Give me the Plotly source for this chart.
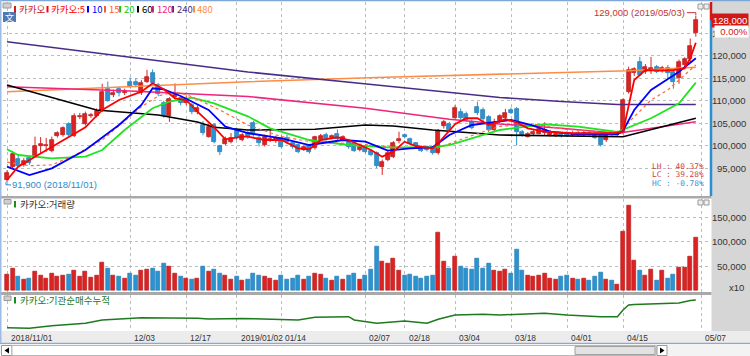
import plotly.graph_objects as go
from plotly.subplots import make_subplots

# ---------------- data ----------------
opens = [92400, 95300, 97000, 95700, 97200, 97700, 99900, 99800, 98800, 102200,
         102400, 104800, 102200, 106400, 104800, 106600, 106600, 107800, 112600, 111300,
         112600, 111700, 114300, 114200, 111700, 114300, 116200, 113500, 109400, 106600,
         110800, 110600, 109500, 109000, 107500, 104600, 102000, 104600, 99900, 100400,
         100700, 103500, 101300, 102800, 105000, 101700, 100100, 101200, 101000, 101700,
         101600, 100600, 100100, 99000, 100100, 99400, 101300, 102300, 101700, 102700,
         101300, 101100, 100600, 99000, 99900, 98900, 98300, 95300, 96800, 97500,
         101000, 102400, 101400, 100500, 99600, 99700, 99600, 98300, 104300, 104800,
         106200, 107600, 107100, 105300, 108700, 108000, 106400, 103500, 105500, 106200,
         108000, 108200, 103100, 102000, 102500, 102700, 102800, 102400, 102200, 102600,
         102800, 102300, 102900, 102400, 102900, 102700, 102400, 101200, 102700, 102400,
         102750, 112000, 116300, 118700, 116500, 116600, 117600, 116700, 117250, 116500,
         115000, 118000, 119300, 125100]
highs = [94500, 98800, 97800, 97200, 97600, 102000, 101900, 101700, 102000, 103200,
         104300, 105200, 107200, 107300, 107600, 107300, 108300, 113800, 114300, 112500,
         113200, 112700, 115200, 115000, 114600, 116900, 117000, 114000, 110000, 110800,
         113900, 111000, 111200, 109500, 109000, 105500, 104800, 105000, 100200, 102000,
         102800, 104000, 102800, 103300, 105500, 102400, 102400, 103500, 102200, 102300,
         102500, 101000, 100400, 100000, 100300, 102200, 102600, 102900, 102500, 103600,
         102300, 101500, 101000, 100000, 100200, 99300, 98700, 96900, 98800, 101000,
         103100, 102700, 101800, 100800, 100000, 100000, 99900, 103700, 105700, 105300,
         109000, 108300, 107600, 105800, 109800, 108500, 106800, 106000, 107000, 108200,
         108500, 108600, 103500, 103000, 103600, 104300, 105200, 103500, 102900, 103000,
         103200, 103200, 103300, 103400, 103300, 103000, 102700, 103000, 103200, 103300,
         110500, 117600, 117500, 119800, 118200, 119800, 118000, 117800, 118000, 116900,
         119200, 119700, 123900, 129000]
lows = [91900, 95000, 95200, 95300, 95700, 97500, 98300, 98600, 98500, 101800,
        102000, 102000, 101900, 105900, 104500, 106200, 106300, 107500, 109800, 110800,
        111000, 111300, 112900, 113000, 111300, 114000, 113600, 111000, 106200, 105300,
        110300, 109000, 109000, 107000, 107000, 102300, 101800, 100500, 97900, 100100,
        100500, 101300, 101000, 101500, 102000, 99800, 99800, 100800, 100600, 99500,
        100300, 99300, 98300, 98800, 98200, 99100, 100900, 101100, 101400, 101100,
        101000, 99300, 98600, 98700, 98300, 97600, 95000, 93450, 96500, 97200,
        100500, 101600, 100000, 99500, 98600, 98700, 98000, 98000, 103800, 103000,
        106000, 105800, 105300, 103600, 106800, 105500, 103000, 103000, 105000, 105900,
        107000, 100000, 102000, 101800, 102200, 102500, 102300, 102000, 101900, 101800,
        101900, 102000, 102100, 102000, 102200, 101500, 99800, 100800, 102000, 102200,
        102500, 111600, 115500, 115500, 116000, 116000, 116200, 116300, 115000, 112700,
        113800, 117500, 118700, 124300]
closes = [93900, 98100, 95500, 96600, 96100, 99900, 100400, 100200, 101300, 102800,
          103900, 102400, 106600, 106700, 107000, 106900, 107800, 112000, 110000, 111800,
          111700, 112200, 113200, 113500, 114000, 115400, 114000, 111500, 106600, 110300,
          111300, 109500, 110400, 107500, 108400, 102800, 104200, 100900, 98600, 101500,
          101800, 101700, 102300, 101900, 102400, 100600, 102000, 101400, 101800, 99700,
          100800, 99700, 98600, 99700, 98600, 101850, 102100, 101400, 102100, 101400,
          101900, 99600, 98900, 99600, 98600, 97900, 95450, 96400, 98300, 100500,
          101500, 101900, 100400, 99800, 98900, 99000, 98300, 103300, 105200, 103500,
          108400, 106200, 105700, 103900, 107200, 106000, 103500, 105000, 106500, 107300,
          107300, 103100, 102400, 102500, 103100, 103800, 103500, 103100, 102500, 102100,
          102200, 102700, 102400, 102800, 102500, 101800, 100200, 102500, 102300, 102800,
          110200, 116900, 117000, 115800, 117600, 117300, 116500, 117300, 116100, 114300,
          118700, 119300, 122200, 128000]
volumes = [32000, 45000, 28000, 22000, 25000, 38000, 30000, 24000, 35000, 28000, 30000,
           33000, 40000, 28000, 38000, 26000, 30000, 58000, 45000, 30000, 28000, 24000,
           35000, 30000, 40000, 42000, 45000, 38000, 55000, 48000, 35000, 28000, 25000, 22000, 24000,
           50000, 38000, 42000, 35000, 30000, 22000, 28000, 20000, 22000, 35000, 30000,
           28000, 25000, 20000, 30000, 22000, 25000, 30000, 22000, 28000, 35000, 32000, 25000,
           20000, 28000, 22000, 30000, 35000, 22000, 30000,
           42000, 90000, 60000, 55000, 65000, 40000, 30000, 32000, 28000, 25000, 28000, 30000,
           120000, 60000, 45000,
           70000, 50000, 45000, 42000, 65000, 45000, 55000, 40000, 38000, 42000, 35000, 85000,
           40000, 30000, 28000, 30000, 35000, 25000, 22000, 28000, 30000, 25000, 22000, 25000,
           20000, 28000, 36000, 23000, 21000, 11000,
           121000, 174000, 62000, 40000, 29600, 42000, 21000, 40000, 25000, 31600, 47000,
           46500, 70000, 108000]

# moving-average lines: vertices (trading-day index, price)
ma5_idx = [0, 2, 5, 8, 11, 14, 17, 20, 24, 26, 28, 30, 32, 34, 37, 39, 42, 43, 46, 49,
           52, 54, 56, 59, 61, 65, 67, 69, 71, 73, 76, 77, 80, 82, 84, 86, 89, 91, 93, 96,
           101, 108, 110, 111, 112, 114, 117, 119, 121, 122, 123]
ma5_val = [92330, 95290, 97530, 99760, 102000, 104080, 107950, 110180, 112040, 113900,
           112570, 110560, 110180, 107570, 104080, 101400, 102000, 102000, 101250, 101250,
           99400, 99180, 101250, 101860, 101250, 99020, 97530, 98640, 100870, 99910,
           99400, 100510, 104760, 106100, 106100, 104600, 105870, 105200, 103860, 103100,
           102750, 102750, 103100, 108800, 114640, 116870, 116720, 116870, 117250, 119490, 122970]
ma10_idx = [0, 4, 8, 14, 20, 24, 26, 28, 31, 36, 39, 43, 49, 54, 60, 64, 68, 72, 76, 79,
            83, 88, 90, 94, 97, 102, 109, 110, 112, 115, 120, 123]
ma10_val = [95290, 93440, 94930, 99020, 104600, 109060, 112790, 112570, 111070, 107950,
            104220, 102810, 101630, 100130, 101250, 100870, 98860, 99400, 99620, 102370,
            104600, 105340, 105710, 104440, 103100, 102520, 102520, 103300, 107950, 112410,
            116500, 119490]
ma15_idx = [0, 4, 8, 12, 17, 24, 27, 30, 33, 38, 43, 49, 55, 61, 66, 72, 77, 82, 88, 94,
            100, 109, 115, 118, 123]
ma15_val = [96300, 95500, 95700, 97800, 101250, 108680, 111070, 112030, 110920, 107950,
            104600, 102000, 100700, 100500, 100000, 99400, 99500, 101800, 104300, 104800,
            103600, 102700, 110180, 112410, 118000]
ma20_idx = [0, 2, 8, 14, 17, 21, 26, 29, 33, 37, 43, 47, 54, 61, 68, 76, 79, 88, 96, 102,
            109, 115, 120, 123]
ma20_val = [99170, 97900, 97170, 97530, 99020, 103480, 108330, 109800, 110690, 109440,
            106540, 103860, 101250, 100130, 99620, 99620, 100130, 103480, 104760, 104240,
            103040, 106100, 109440, 114040]
ma60_idx = [0, 8, 16, 27, 34, 37, 43, 55, 64, 69, 76, 88, 110, 123]
ma60_val = [113530, 110740, 107950, 106830, 105270, 104080, 103480, 103640, 104600, 104380,
            103480, 102370, 101990, 106100]
ma120_idx = [0, 22, 43, 64, 79, 88, 99, 109, 123]
ma120_val = [113150, 112190, 110960, 108330, 105870, 104820, 103860, 102750, 105340]
ma240_idx = [0, 22, 43, 66, 88, 99, 109, 123]
ma240_val = [123190, 119780, 116430, 113530, 110740, 109840, 109170, 109170]
ma480_idx = [0, 22, 43, 66, 88, 111, 123]
ma480_val = [112030, 113200, 114260, 115200, 115980, 116720, 117500]

# institutional cumulative net buying (shares), vertices
inst_idx = [0, 4, 8, 14, 17, 21, 24, 34, 36, 42, 52, 55, 61, 62, 66, 71, 75, 77, 80, 85,
            88, 96, 100, 106, 109, 110, 111, 112, 115, 120, 122, 123]
inst_val = [0, -12000, 40000, 88000, 154000, 174000, 200000, 188000, 174000, 184000,
            154000, 208000, 220000, 154000, 88000, 134000, 88000, 168000, 254000, 268000,
            254000, 288000, 254000, 220000, 220000, 354000, 454000, 464000, 474000, 494000,
            544000, 554000]

tick_idx = [0, 22, 32, 41, 49, 64, 71, 80, 90, 100, 110, 124]
tick_text = ["2018/11/01", "12/03", "12/17", "2019/01/02", "01/14", "02/07", "02/18",
             "03/04", "03/18", "04/01", "04/15", "05/07"]
price_ticks = [95000, 100000, 105000, 110000, 115000, 120000, 125000]
vol_ticks = [50000, 100000, 150000]
low_date = "2018/11/01"
high_date = "2019/05/03"
stock = "카카오"

# ---------------- styling ----------------
UP_FILL, UP_EDGE = "#DC2323", "#B01414"
DN_FILL, DN_EDGE = "#2C93D2", "#1B73AE"
KFONT = "Noto Sans CJK KR"
NFONT = "Liberation Sans, Arial, sans-serif"
GRID = "#BDBDBD"

W, H = 750, 356
L, R, T, B = 3, 39, 2, 25
PW, PH = W - L - R, H - T - B


def PX(x):
    return (x - L) / PW


def PY(y):
    return (H - B - y) / PH


price_range = [88750, 132050]
vol_range = [-3720, 189460]
inst_range = [-66000, 654000]
x_range = [-0.714, 125.71]

n = len(closes)
idx = list(range(n))
up = [i for i in idx if closes[i] >= opens[i]]
dn = [i for i in idx if closes[i] < opens[i]]

fig = make_subplots(rows=3, cols=1, shared_xaxes=True, vertical_spacing=0.01)


def wick_trace(ids, color):
    xs, ys = [], []
    for i in ids:
        xs += [i, i, None]
        ys += [lows[i], highs[i], None]
    return go.Scatter(x=xs, y=ys, mode="lines", line=dict(color=color, width=1),
                      hoverinfo="skip", showlegend=False)


def body_trace(ids, fill, edge):
    base = [min(opens[i], closes[i]) for i in ids]
    hgt = [max(abs(closes[i] - opens[i]), 220) for i in ids]
    return go.Bar(x=ids, y=hgt, base=base, width=0.72,
                  marker=dict(color=fill, line=dict(color=edge, width=0.7)),
                  hoverinfo="skip", showlegend=False)


fig.add_trace(wick_trace(up, UP_FILL), 1, 1)
fig.add_trace(wick_trace(dn, DN_FILL), 1, 1)
fig.add_trace(body_trace(up, UP_FILL, UP_EDGE), 1, 1)
fig.add_trace(body_trace(dn, DN_FILL, DN_EDGE), 1, 1)

ma_specs = [
    (ma480_idx, ma480_val, "#FF8C45", 1.6, "solid"),
    (ma240_idx, ma240_val, "#4A2C86", 1.6, "solid"),
    (ma120_idx, ma120_val, "#F0237D", 1.6, "solid"),
    (ma60_idx, ma60_val, "#000000", 1.6, "solid"),
    (ma20_idx, ma20_val, "#22E322", 1.8, "solid"),
    (ma15_idx, ma15_val, "#FF6A3A", 1.2, "dot"),
    (ma10_idx, ma10_val, "#0000FF", 1.8, "solid"),
    (ma5_idx, ma5_val, "#FF0000", 1.8, "solid"),
]
for xi, yv, col, w, dash in ma_specs:
    fig.add_trace(go.Scatter(x=xi, y=yv, mode="lines",
                             line=dict(color=col, width=w, dash=dash),
                             hoverinfo="skip", showlegend=False), 1, 1)

fig.add_trace(go.Bar(x=up, y=[volumes[i] for i in up], width=0.72,
                     marker=dict(color=UP_FILL, line=dict(color=UP_EDGE, width=0.6)),
                     hoverinfo="skip", showlegend=False), 2, 1)
fig.add_trace(go.Bar(x=dn, y=[volumes[i] for i in dn], width=0.72,
                     marker=dict(color=DN_FILL, line=dict(color=DN_EDGE, width=0.6)),
                     hoverinfo="skip", showlegend=False), 2, 1)

fig.add_trace(go.Scatter(x=inst_idx, y=inst_val, mode="lines",
                         line=dict(color="#1D7A1D", width=1.5),
                         hoverinfo="skip", showlegend=False), 3, 1)

# ---------------- axes ----------------
for k in (1, 2, 3):
    fig.update_xaxes(row=k, col=1, range=x_range, showticklabels=False, ticks="",
                     tickvals=tick_idx, showgrid=True, gridcolor=GRID, griddash="dot",
                     gridwidth=1, zeroline=False, showline=False)
fig.update_yaxes(row=1, col=1, range=price_range, tickvals=price_ticks, showticklabels=False,
                 showgrid=True, gridcolor=GRID, griddash="dot", zeroline=False)
fig.update_yaxes(row=2, col=1, range=vol_range, tickvals=vol_ticks, showticklabels=False,
                 showgrid=True, gridcolor=GRID, griddash="dot", zeroline=False)
fig.update_yaxes(row=3, col=1, range=inst_range, showticklabels=False,
                 showgrid=False, zeroline=False)
fig.update_layout(
    yaxis=dict(domain=[PY(196), 1]),
    yaxis2=dict(domain=[PY(292), PY(198.5)]),
    yaxis3=dict(domain=[0, PY(295)]),
)

shapes = []
ann = []


def rect(x0, y0, x1, y1, fill, line=None, layer="above", lw=1):
    shapes.append(dict(type="rect", xref="paper", yref="paper", x0=PX(x0), x1=PX(x1),
                       y0=PY(y1), y1=PY(y0), fillcolor=fill, layer=layer,
                       line=dict(color=line or fill, width=lw if line else 0)))


# right axis column, label row, scrollbar row, separators
rect(711.5, 0, 750, 331.5, "#D6D6D6", layer="below")
rect(0, 196, 711.5, 198.5, "#A9A9A9")
rect(0, 292, 711.5, 295, "#A9A9A9")
rect(0, 331, 750, 343, "#ECECEC")
rect(0, 343, 750, 356, "#F3F3F3")
rect(0, 342.8, 750, 344, "#86AADB")
rect(0, 0, 750, 1.2, "#7EA6D8")
rect(0, 0, 1.5, 343, "#9CBCE3")
rect(1.5, 345.5, 12, 355.5, "#FFFFFF", "#9A9A9A")
rect(12, 345.5, 656, 355.5, "#FFFFFF", "#B8B8B8")
rect(575, 346.5, 655, 354.5, "#E2E2E2", "#A0A0A0")
rect(657, 345.5, 667, 355.5, "#FFFFFF", "#9A9A9A")
shapes.append(dict(type="path", xref="paper", yref="paper",
                   path=f"M {PX(9)},{PY(347.5)} L {PX(4.5)},{PY(350.5)} L {PX(9)},{PY(353.5)} Z",
                   fillcolor="#000000", line=dict(width=0)))
shapes.append(dict(type="path", xref="paper", yref="paper",
                   path=f"M {PX(660)},{PY(347.5)} L {PX(664.5)},{PY(350.5)} L {PX(660)},{PY(353.5)} Z",
                   fillcolor="#000000", line=dict(width=0)))
# panel buttons
for (bx, by) in [(698, 4), (704, 4), (698, 200), (704, 200)]:
    rect(bx, by, bx + 5, by + 5, "#EFEFEF", "#9A9A9A")
# legend icons
rect(3, 3, 11, 8, "#CFCFCF", "#9A9A9A")
rect(3, 12, 16, 22, "#4E79B5")
rect(4, 199.5, 11, 204, "#CFCFCF", "#9A9A9A")
rect(4, 296, 11, 300.5, "#CFCFCF", "#9A9A9A")

# current-price bar on right edge of price panel
last = closes[-1]
shapes.append(dict(type="line", xref="paper", yref="y", x0=PX(711), x1=PX(711),
                   y0=last, y1=price_range[1], line=dict(color="#D01818", width=2.5)))
shapes.append(dict(type="line", xref="paper", yref="y", x0=PX(711), x1=PX(711),
                   y0=price_range[0], y1=last, line=dict(color="#2A8FD0", width=2.5)))

# axis labels (right side)
for p in price_ticks:
    ann.append(dict(xref="paper", yref="y", x=PX(748), y=p, xanchor="right", yanchor="middle",
                    text=f"{p:,}", showarrow=False,
                    font=dict(family=NFONT, size=9.5, color="#333333")))
# price tag
ann.append(dict(xref="paper", yref="y", x=PX(749), y=last, xanchor="right", yanchor="middle",
                text=f"{last:,}", showarrow=False, bgcolor="#D01818",
                font=dict(family=NFONT, size=9.5, color="#FFFFFF"), borderpad=1))
shapes.append(dict(type="path", xref="paper", yref="y", ysizemode="pixel", yanchor=last,
                   path=f"M {PX(716)},-6 L {PX(710.5)},0 L {PX(716)},6 Z",
                   fillcolor="#D01818", line=dict(width=0)))
ann.append(dict(xref="paper", yref="y", x=PX(749), y=last, yshift=-11, xanchor="right",
                yanchor="middle", text="  0.00%", showarrow=False, bgcolor="#FFFFFF",
                font=dict(family=NFONT, size=9.5, color="#D01818"), borderpad=0))
for v in vol_ticks:
    ann.append(dict(xref="paper", yref="y2", x=PX(748), y=v, xanchor="right", yanchor="middle",
                    text=f"{v:,}", showarrow=False,
                    font=dict(family=NFONT, size=9.5, color="#333333")))
ann.append(dict(xref="paper", yref="paper", x=PX(746), y=PY(287), xanchor="right",
                yanchor="middle", text="x10", showarrow=False,
                font=dict(family=NFONT, size=9.5, color="#333333")))

# x labels
for t, s in zip(tick_idx, tick_text):
    ann.append(dict(xref="x3", yref="paper", x=t, y=PY(337.5), xanchor="left", xshift=2,
                    yanchor="middle", text=s, showarrow=False,
                    font=dict(family=NFONT, size=8.4, color="#333333")))

# legend row
legend = [(stock, "#C81E1E", 14), (stock + ":5", "#FF0000", 46.5), ("10", "#0000FF", 87),
          ("15", "#FF5A28", 104), ("20", "#11CC11", 119), ("60", "#000000", 137),
          ("120", "#F0237D", 152), ("240", "#4A2C86", 172), ("480", "#FF8C45", 193)]
for txt, col, mx in legend:
    rect(mx, 6, mx + 2, 12.5, col)
    ann.append(dict(xref="paper", yref="paper", x=PX(mx + 2.5), y=PY(9.3), xanchor="left",
                    yanchor="middle", text=txt, showarrow=False,
                    font=dict(family=KFONT, size=9.5, color=col)))
ann.append(dict(xref="paper", yref="paper", x=PX(9.5), y=PY(17), xanchor="center",
                yanchor="middle", text="文", showarrow=False,
                font=dict(family="Noto Sans CJK SC", size=9, color="#FFFFFF")))

rect(14, 201, 16, 207.5, "#1D8A1D")
ann.append(dict(xref="paper", yref="paper", x=PX(17.5), y=PY(204.3), xanchor="left",
                yanchor="middle", text=stock + ":거래량", showarrow=False,
                font=dict(family=KFONT, size=9.5, color="#333333")))
rect(14, 297, 16, 303.5, "#1D8A1D")
ann.append(dict(xref="paper", yref="paper", x=PX(17.5), y=PY(300.3), xanchor="left",
                yanchor="middle", text=stock + ":기관순매수누적", showarrow=False,
                font=dict(family=KFONT, size=9.5, color="#1D7A1D")))

# high / low markers
hi_i = max(idx, key=lambda i: highs[i])
lo_i = min(idx, key=lambda i: lows[i])
hi, lo = highs[hi_i], lows[lo_i]
ann.append(dict(xref="x", yref="y", x=hi_i, y=hi, xanchor="right", yanchor="middle",
                xshift=-9, yshift=3, text=f"{hi:,} ({high_date})", showarrow=False,
                font=dict(family=NFONT, size=9.5, color="#C83232")))
shapes.append(dict(type="path", xref="x", yref="y", xsizemode="pixel", ysizemode="pixel",
                   xanchor=hi_i, yanchor=hi, path="M -9,3 L 0,3 L 0,0.5",
                   line=dict(color="#C83232", width=1)))
ann.append(dict(xref="x", yref="y", x=lo_i, y=lo, xanchor="left", yanchor="middle",
                xshift=3, yshift=-3, text=f"{lo:,} ({low_date})", showarrow=False,
                font=dict(family=NFONT, size=9.5, color="#2C8CC8")))
shapes.append(dict(type="path", xref="x", yref="y", xsizemode="pixel", ysizemode="pixel",
                   xanchor=lo_i, yanchor=lo, path="M -1,0 L -1,-3 L 4,-3",
                   line=dict(color="#2C8CC8", width=1)))

lh = (hi - lo) / lo * 100
lc = (last - lo) / lo * 100
hc = (last - hi) / hi * 100
for k, (lab, val, col) in enumerate([("LH", lh, "#D03C3C"), ("LC", lc, "#D03C3C"),
                                     ("HC", hc, "#3A8FD0")]):
    ann.append(dict(xref="paper", yref="paper", x=PX(706), y=PY(166 + 8.7 * k),
                    xanchor="right", yanchor="middle", text=f"{lab} : {val:.2f}%",
                    showarrow=False, font=dict(family="DejaVu Sans Mono", size=7.8, color=col)))

fig.update_layout(
    width=W, height=H, margin=dict(l=L, r=R, t=T, b=B),
    paper_bgcolor="#FFFFFF", plot_bgcolor="#FFFFFF",
    barmode="overlay", bargap=0, showlegend=False, hovermode=False,
    shapes=shapes, annotations=ann,
)

fig.write_html("out.html", config={"displayModeBar": False},
               post_script="document.body.style.margin='0';document.body.style.padding='0';")
